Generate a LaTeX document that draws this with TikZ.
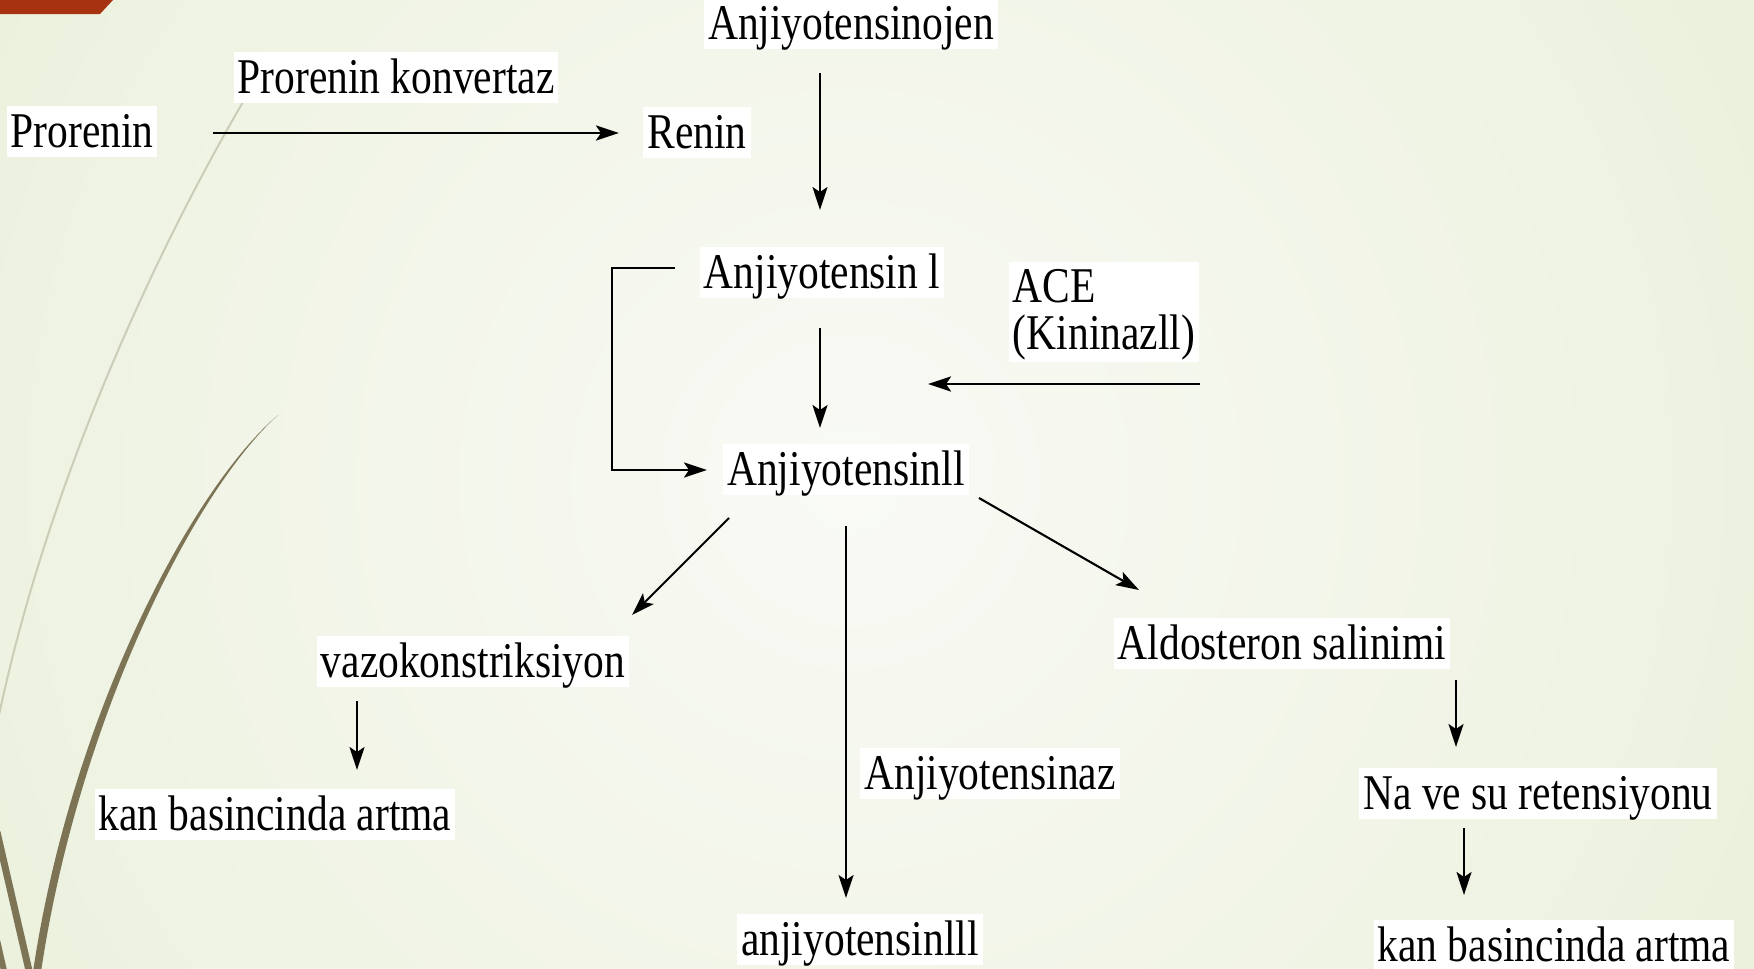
\documentclass[tikz,border=0pt]{standalone}
\usepackage{fontspec}
\setmainfont{Liberation Serif}[FakeStretch=0.83]
\usetikzlibrary{arrows.meta,calc}
\definecolor{bgin}{HTML}{F9FAF5}
\definecolor{bgout}{HTML}{E0E9C8}
\definecolor{redc}{HTML}{A63212}
\definecolor{grassdark}{HTML}{7D7456}
\definecolor{grasslight}{HTML}{CBCDB7}
\begin{document}
\begin{tikzpicture}[x=1pt,y=-1pt,
  every node/.style={font=\fontsize{50}{47}\selectfont},
  box/.style={fill=white,inner xsep=4pt,inner ysep=2pt,text height=40pt,text depth=7pt},
  twobox/.style={fill=white,inner xsep=4pt,inner ysep=2pt,align=left},
  arr/.style={-{Stealth[length=23pt,width=15pt,inset=5pt]},line width=2.1pt,black},
  arrthick/.style={arr,line width=2.8pt}]
\useasboundingbox (0,0) rectangle (1754,969);
% background
\begin{scope}
\clip (0,0) rectangle (1754,969);
\fill[bgout] (0,0) rectangle (1754,969);
\shade[inner color=bgin,outer color=bgout] (850,480) circle (1900);
% red corner
\fill[redc] (0,0) -- (113,0) -- (100,14) -- (0,14) -- cycle;
% grass decoration
\draw[grasslight,line width=2pt] (256,80) .. controls (160,240) and (48,480) .. (-2,720);
\fill[grassdark] (278,415) .. controls (190,490) and (70,720) .. (33,972)
  -- (41,972) .. controls (78,722) and (193,492) .. (278,415) -- cycle;
\draw[grassdark,line width=7pt] (-3,832) -- (30,975);
\draw[grassdark,line width=6pt] (-3,940) -- (5,975);
\end{scope}
% nodes
\node[box] (pk) at (396,77) {Prorenin konvertaz};
\node[box] (pro) at (82,131) {Prorenin};
\node[box] (renin) at (697,132) {Renin};
\node[box] (ajen) at (851,23) {Anjiyotensinojen};
\node[box] (aI) at (822,272) {Anjiyotensin l};
\node[twobox] (ace) at (1104,312) {\rule{0pt}{39pt}ACE\\(Kininazll)\rule[-7pt]{0pt}{7pt}};
\node[box] (aII) at (846,469) {Anjiyotensinll};
\node[box] (vazo) at (473,661) {vazokonstriksiyon};
\node[box] (kanL) at (275,814) {kan basincinda artma};
\node[box] (az) at (990,773) {Anjiyotensinaz};
\node[box] (aIII) at (860,939) {anjiyotensinlll};
\node[box] (aldo) at (1282,643) {Aldosteron salinimi};
\node[box] (na) at (1538,793) {Na ve su retensiyonu};
\node[box] (kanR) at (1554,945) {kan basincinda artma};
% connectors
\draw[arrthick] ($(pro)+(131,2)$) -- ($(renin)+(-78,1)$);
\draw[arr] ($(ajen)+(-31,50)$) -- ($(aI)+(-2,-62)$);
\draw[line width=2.4pt,-{Stealth[length=23pt,width=15pt,inset=5pt]}] ($(aI)+(-147,-4)$) -- ++(-63,0) |- ($(aII)+(-139,1)$);
\draw[arr] ($(aI)+(-2,56)$) -- ($(aII)+(-26,-41)$);
\draw[arrthick] ($(ace)+(96,72)$) -- ($(aII)+(82,-85)$);
\draw[arr] ($(aII)+(-117,49)$) -- ($(vazo)+(159,-46)$);
\draw[arr] ($(aII)+(0,57)$) -- ($(aIII)+(-14,-41)$);
\draw[arr] ($(aII)+(133,29)$) -- ($(aldo)+(-143,-53)$);
\draw[arr] ($(vazo)+(-116,40)$) -- ($(kanL)+(82,-44)$);
\draw[arr] ($(aldo)+(174,37)$) -- ($(na)+(-82,-46)$);
\draw[arr] ($(na)+(-74,35)$) -- ($(kanR)+(-90,-50)$);
\end{tikzpicture}
\end{document}
